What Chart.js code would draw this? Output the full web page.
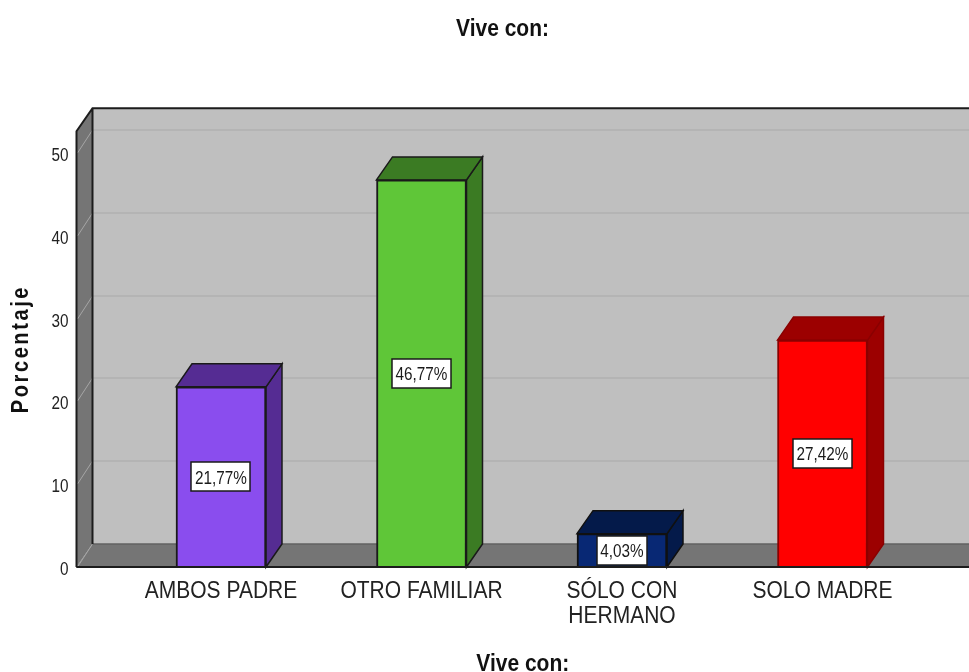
<!DOCTYPE html>
<html>
<head>
<meta charset="utf-8">
<style>
html,body{margin:0;padding:0;background:#fff;overflow:hidden}
#wrap{position:absolute;left:0;top:0;width:969px;height:672px}
</style>
<script src="https://cdn.jsdelivr.net/npm/chart.js@4"></script>
</head>
<body>
<div id="wrap"><canvas id="c" width="969" height="672"></canvas></div>
<script>
const categories = ['AMBOS PADRE', 'OTRO FAMILIAR', ['SÓLO CON', 'HERMANO'], 'SOLO MADRE'];
const percentages = [21.77, 46.77, 4.03, 27.42];
const percentLabels = ['21,77%', '46,77%', '4,03%', '27,42%'];
const frontColors = ['#8A4DEE', '#5FC638', '#082874', '#FF0000'];
const shadeColors = ['#552C93', '#3B7B23', '#041A4A', '#9C0000'];
const edgeColors = ['#1a1a1a', '#1a1a1a', '#101010', '#8a0000'];
const yTickStep = 10;
const yMax = 52.66;
const xMin = -0.7207, xMax = 3.7307;
const depthX = 16, depthY = 23;
const FONT = '"Liberation Sans",Arial,sans-serif';
const textStretch = 1.17;

const canvas = document.getElementById('c');
const rawCtx = canvas.getContext('2d');
const rawFill = rawCtx.fillText.bind(rawCtx);
rawCtx.fillText = function (t, x, y, m) {
  rawCtx.save();
  rawCtx.translate(x, y);
  rawCtx.scale(1, textStretch);
  if (m === undefined) rawFill(t, 0, 0); else rawFill(t, 0, 0, m);
  rawCtx.restore();
};

function poly(ctx, pts, fill, stroke, lw) {
  ctx.beginPath();
  pts.forEach((p, i) => i ? ctx.lineTo(p[0], p[1]) : ctx.moveTo(p[0], p[1]));
  ctx.closePath();
  if (fill) { ctx.fillStyle = fill; ctx.fill(); }
  if (stroke) { ctx.strokeStyle = stroke; ctx.lineWidth = lw || 1; ctx.stroke(); }
}

const box3d = {
  id: 'box3d',
  afterLayout(chart) {
    chart.titleBlock.left = 36;
    const ys = chart.scales.y;
    if (!ys._spaced) {
      const orig = ys.drawTitle;
      ys.drawTitle = function () {
        const ctx = this.ctx;
        ctx.save();
        ctx.letterSpacing = '2.6px';
        orig.apply(this, arguments);
        ctx.restore();
      };
      ys._spaced = true;
    }
  },
  beforeDatasetsDraw(chart) {
    const { ctx, chartArea: a, scales: { y } } = chart;
    const L = a.left, R = a.right + 40, T = a.top, B = a.bottom;
    ctx.save();
    ctx.beginPath(); ctx.rect(0, 0, a.right, chart.height); ctx.clip();
    poly(ctx, [[L + depthX, T - depthY], [R, T - depthY], [R, B - depthY], [L + depthX, B - depthY]], '#BFBFBF');
    poly(ctx, [[L, T], [L + depthX, T - depthY], [L + depthX, B - depthY], [L, B]], '#757575');
    poly(ctx, [[L, B], [L + depthX, B - depthY], [R, B - depthY], [R, B]], '#757575');
    y.ticks.forEach(t => {
      if (t.value === 0) return;
      const py = Math.round(y.getPixelForValue(t.value));
      ctx.strokeStyle = '#B0B0B0'; ctx.lineWidth = 1.5;
      ctx.beginPath(); ctx.moveTo(L + depthX, py - depthY); ctx.lineTo(R, py - depthY); ctx.stroke();
      ctx.strokeStyle = '#A6A6A6'; ctx.lineWidth = 1;
      ctx.beginPath(); ctx.moveTo(L + 1, py); ctx.lineTo(L + depthX, py - depthY); ctx.stroke();
    });
    ctx.strokeStyle = '#A6A6A6'; ctx.lineWidth = 1;
    ctx.beginPath(); ctx.moveTo(L + 1, B); ctx.lineTo(L + depthX, B - depthY); ctx.stroke();
    ctx.strokeStyle = '#626262'; ctx.lineWidth = 1.5;
    ctx.beginPath(); ctx.moveTo(L + depthX, B - depthY); ctx.lineTo(R, B - depthY); ctx.stroke();
    ctx.strokeStyle = '#1c1c1c'; ctx.lineWidth = 2;
    ctx.beginPath();
    ctx.moveTo(L, B); ctx.lineTo(L, T); ctx.lineTo(L + depthX, T - depthY); ctx.lineTo(R, T - depthY);
    ctx.moveTo(L + depthX, T - depthY); ctx.lineTo(L + depthX, B - depthY);
    ctx.moveTo(L, B); ctx.lineTo(R, B);
    ctx.stroke();
    chart.getDatasetMeta(0).data.forEach((bar, i) => {
      const l = bar.x - bar.width / 2, r = bar.x + bar.width / 2, t = bar.y, b = bar.base;
      poly(ctx, [[r, b], [r + depthX, b - depthY], [r + depthX, t - depthY], [r, t]], shadeColors[i], edgeColors[i], 1.5);
      poly(ctx, [[l, t], [l + depthX, t - depthY], [r + depthX, t - depthY], [r, t]], shadeColors[i], edgeColors[i], 1.5);
    });
    ctx.restore();
  },
  afterDatasetsDraw(chart) {
    const { ctx, chartArea: a } = chart;
    ctx.save();
    ctx.strokeStyle = '#1c1c1c'; ctx.lineWidth = 2;
    ctx.beginPath(); ctx.moveTo(a.left, a.bottom); ctx.lineTo(a.right, a.bottom); ctx.stroke();
    ctx.font = '15.3px ' + FONT;
    ctx.textAlign = 'center'; ctx.textBaseline = 'middle';
    chart.getDatasetMeta(0).data.forEach((bar, i) => {
      const cy = (bar.y + bar.base) / 2;
      const w = Math.round(ctx.measureText(percentLabels[i]).width) + 7, h = 29;
      const x0 = Math.round(bar.x - w / 2), y0 = Math.round(cy - h / 2);
      ctx.fillStyle = '#fff'; ctx.fillRect(x0, y0, w, h);
      ctx.strokeStyle = '#1a1a1a'; ctx.lineWidth = 1.5; ctx.strokeRect(x0, y0, w, h);
      ctx.fillStyle = '#1a1a1a';
      ctx.fillText(percentLabels[i], bar.x, cy + 2);
    });
    ctx.restore();
  }
};

new Chart(canvas, {
  type: 'bar',
  data: {
    datasets: [{
      label: 'Porcentaje',
      data: percentages.map((v, i) => ({ x: i, y: v })),
      backgroundColor: frontColors,
      borderColor: edgeColors,
      borderWidth: 2,
      barThickness: 90
    }]
  },
  plugins: [box3d],
  options: {
    responsive: false,
    animation: false,
    layout: { padding: 0 },
    plugins: {
      legend: { display: false },
      tooltip: { enabled: false },
      title: {
        display: true,
        text: 'Vive con:',
        color: '#111',
        font: { family: FONT, size: 21, weight: 'bold', lineHeight: 1.2 },
        padding: { top: 17, bottom: 89 }
      }
    },
    scales: {
      x: {
        type: 'linear',
        offset: false,
        min: xMin,
        max: xMax,
        afterBuildTicks(s) { s.ticks = categories.map((c, i) => ({ value: i })); },
        afterFit(s) { s.height = 105; },
        grid: { display: false, drawTicks: false },
        border: { display: false },
        ticks: {
          autoSkip: false, maxRotation: 0, minRotation: 0, padding: 12,
          color: '#222',
          font: { family: FONT, size: 21, lineHeight: 1.19 },
          callback: v => categories[v]
        },
        title: {
          display: true, text: 'Vive con:', color: '#111',
          font: { family: FONT, size: 21, weight: 'bold', lineHeight: 0.76 },
          padding: 0
        }
      },
      y: {
        min: 0,
        max: yMax,
        afterFit(s) { s.width = 76.5; },
        grid: { display: false, drawTicks: false },
        border: { display: false },
        ticks: {
          stepSize: yTickStep, includeBounds: false, padding: 8, labelOffset: 3,
          color: '#222',
          font: { family: FONT, size: 15.3 }
        },
        title: {
          display: true, text: 'Porcentaje', color: '#111',
          font: { family: FONT, size: 20, weight: 'bold', lineHeight: 1.2 },
          padding: { top: 10, bottom: 0 }
        }
      }
    }
  }
});
</script>
</body>
</html>
